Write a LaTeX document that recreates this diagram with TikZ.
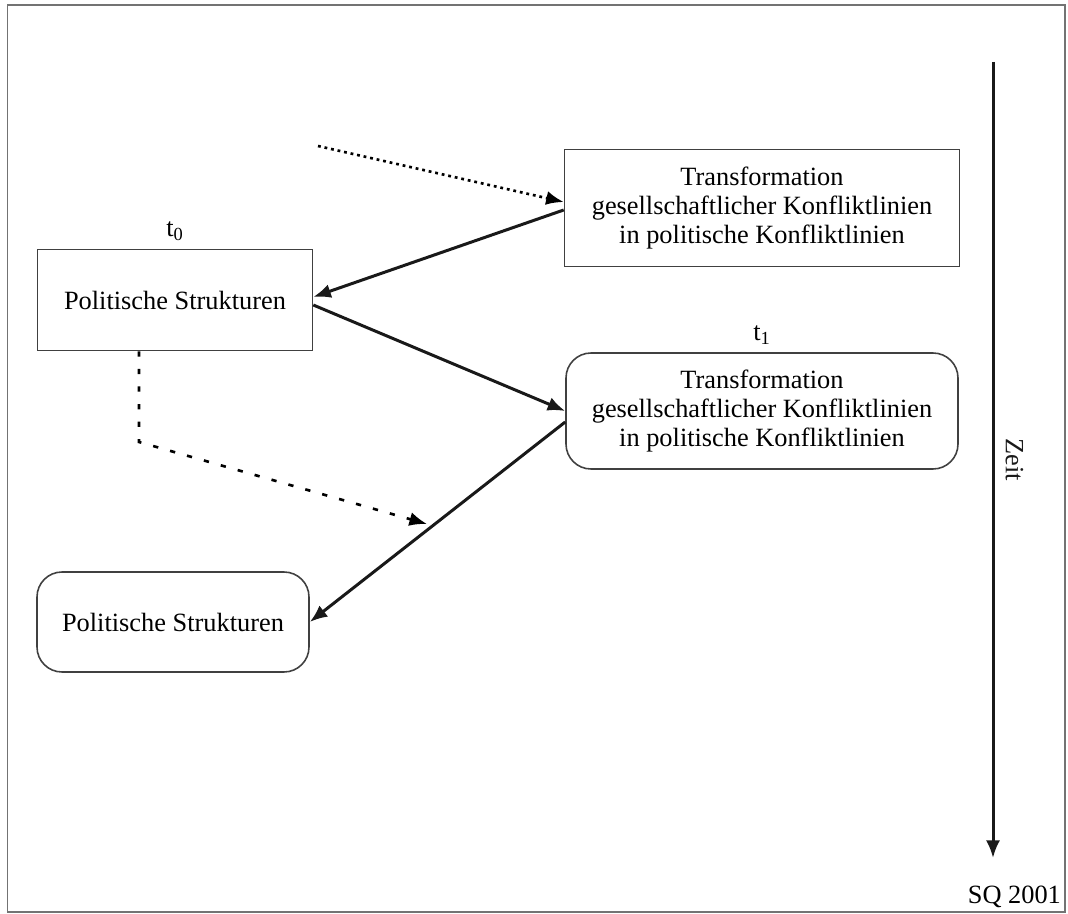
\documentclass[tikz,border=0pt]{standalone}
\usepackage{fontspec}
\setmainfont{Liberation Serif}
\usetikzlibrary{arrows.meta}
\usetikzlibrary{positioning}
\tikzset{>={Latex[length=10pt,width=8pt]}}
\tikzset{box/.style = {shape=rectangle,draw=black!75,line width=0.9pt,align=center}}
\tikzset{roundbox/.style = {box,rounded corners=0.5cm}}
\tikzset{link/.style = {->,line width=1.7pt,black!90}}

\begin{document}
\begin{tikzpicture}[font=\fontsize{15}{16.5}\selectfont]
                \useasboundingbox (0,0) rectangle (21.36,18.26);
                \draw[black!55,line width=1pt] (0.15,0.02) rectangle (21.30,18.16);

                \node[box,minimum width=7.9cm,minimum height=2.34cm] (A) at (15.24,14.10) {Transformation\\gesellschaftlicher Konfliktlinien\\in politische Konfliktlinien};
                \node[box,minimum width=5.5cm,minimum height=2.02cm] (B) at (3.5,12.26) {Politische Strukturen};
                \node[roundbox,minimum width=7.84cm,minimum height=2.32cm] (C) at (15.24,10.04) {Transformation\\gesellschaftlicher Konfliktlinien\\in politische Konfliktlinien};
                \node[roundbox,minimum width=5.44cm,minimum height=2.0cm] (D) at (3.46,5.82) {Politische Strukturen};

                \node[above=1pt of B] (t0) {t\textsubscript{0}};
                \node[above=1pt of C] (t1) {t\textsubscript{1}};

                \coordinate (S) at (6.36,15.34);
                \coordinate (K) at (2.78,9.42);
                \coordinate (M) at (8.54,7.78);
                \coordinate (Z0) at (19.86,17.02);
                \coordinate (Z1) at (19.86,1.1);

                \draw[->,line width=1.5pt,dash pattern=on 1.6pt off 2.2pt] (S) -- ([yshift=0.12cm]A.west);
                \draw[link] ([yshift=-0.04cm]A.west) -- ([yshift=0.06cm]B.east);
                \draw[link] ([yshift=-0.1cm]B.east) -- (C.west);
                \draw[link] ([yshift=-0.22cm]C.west) -- (D.east);
                \draw[->,line width=1.5pt,dash pattern=on 3pt off 7pt] (B.south -| K) -- (K) -- (M);

                \draw[link] (Z0) -- node[right=3pt,rotate=-90,anchor=south] (zeit) {Zeit} (Z1);
                \node[anchor=south east,inner sep=1pt] (sq) at (21.26,0.06) {SQ 2001};
\end{tikzpicture}
\end{document}
